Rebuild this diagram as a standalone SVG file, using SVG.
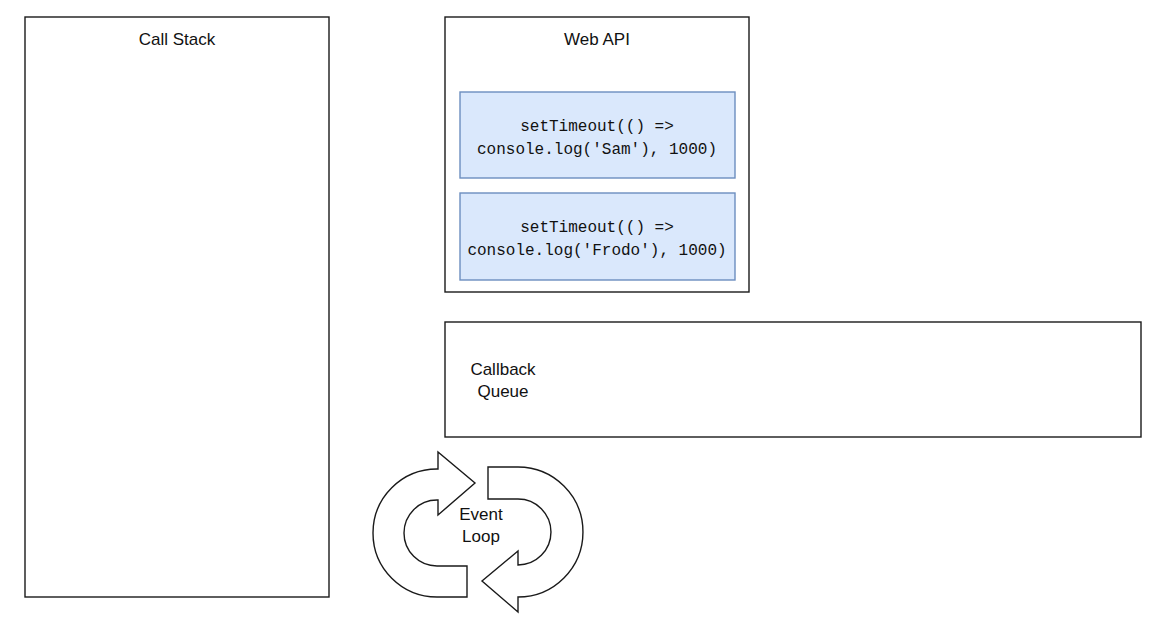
<svg xmlns="http://www.w3.org/2000/svg" width="1166" height="640" viewBox="0 0 1166 640">
<style>
.box{fill:#fff;stroke:#1a1a1a;stroke-width:1.4}
.task{fill:#dae8fc;stroke:#6c8ebf;stroke-width:1.4}
.lbl{font-family:"Liberation Sans",Arial,sans-serif;font-size:17px;fill:#111;text-anchor:middle}
.code{font-family:"Liberation Mono","DejaVu Sans Mono",monospace;font-size:16px;fill:#111;text-anchor:middle}
.arr{fill:#fff;stroke:#1a1a1a;stroke-width:1.4;stroke-linejoin:miter}
</style>
<rect width="1166" height="640" fill="#fff"/>
<g id="call-stack">
<rect class="box" x="25" y="17" width="304" height="580"/>
<text class="lbl" x="177" y="45">Call Stack</text>
</g>
<g id="web-api">
<rect class="box" x="445" y="17" width="304" height="275"/>
<text class="lbl" x="597" y="45">Web API</text>
</g>
<g id="timeout-sam">
<rect class="task" x="460" y="92" width="275" height="86"/>
<text class="code" x="597" y="131">setTimeout(() =&gt;</text>
<text class="code" x="597" y="154">console.log('Sam'), 1000)</text>
</g>
<g id="timeout-frodo">
<rect class="task" x="460" y="193" width="275" height="87"/>
<text class="code" x="597" y="232">setTimeout(() =&gt;</text>
<text class="code" x="597" y="255">console.log('Frodo'), 1000)</text>
</g>
<g id="callback-queue">
<rect class="box" x="445" y="322" width="696" height="115"/>
<text class="lbl" x="503" y="375">Callback</text>
<text class="lbl" x="503" y="397">Queue</text>
</g>
<g id="event-loop">
<path class="arr" d="M 467 597 L 437 597 A 64 64 0 0 1 437 469 L 438 469 L 438 452 L 475 483 L 438 515 L 438 500 L 437 500 A 33 33 0 0 0 437 566 L 467 566 Z"/>
<path class="arr" d="M 488 467 L 518 467 A 65 65 0 0 1 518 597 L 518 612 L 482 581 L 518 551 L 518 565 A 33 33 0 0 0 518 499 L 488 499 Z"/>
<text class="lbl" x="481" y="520">Event</text>
<text class="lbl" x="481" y="542">Loop</text>
</g>
<g id="connectors"></g>
</svg>
